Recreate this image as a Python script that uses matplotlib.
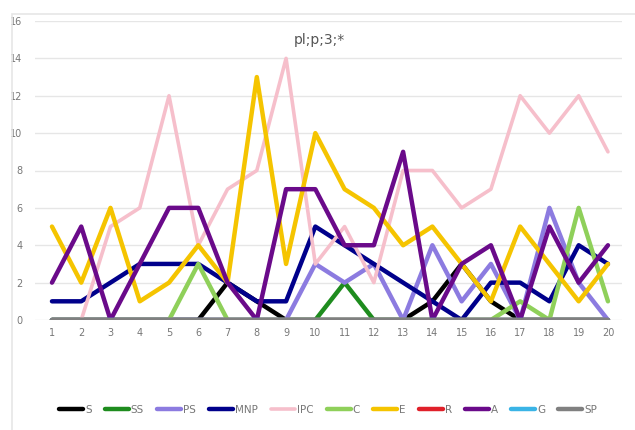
import matplotlib
matplotlib.use("Agg")
import matplotlib.pyplot as plt
from matplotlib.patches import Rectangle

x = list(range(1, 21))
S   = [0, 0, 0, 0, 0, 0, 2, 1, 0, 0, 0, 0, 0, 1, 3, 1, 0, 0, 0, 0]
SS  = [0, 0, 0, 0, 0, 0, 0, 0, 0, 0, 2, 0, 0, 0, 0, 0, 0, 0, 0, 0]
PS  = [0, 0, 0, 0, 0, 0, 0, 0, 0, 3, 2, 3, 0, 4, 1, 3, 0, 6, 2, 0]
MNP = [1, 1, 2, 3, 3, 3, 2, 1, 1, 5, 4, 3, 2, 1, 0, 2, 2, 1, 4, 3]
IPC = [0, 0, 5, 6, 12, 4, 7, 8, 14, 3, 5, 2, 8, 8, 6, 7, 12, 10, 12, 9]
C   = [0, 0, 0, 0, 0, 3, 0, 0, 0, 0, 0, 0, 0, 0, 0, 0, 1, 0, 6, 1]
E   = [5, 2, 6, 1, 2, 4, 2, 13, 3, 10, 7, 6, 4, 5, 3, 1, 5, 3, 1, 3]
R   = [0] * 20
A   = [2, 5, 0, 3, 6, 6, 2, 0, 7, 7, 4, 4, 9, 0, 3, 4, 0, 5, 2, 4]
G   = [0] * 20
SP  = [0] * 20

names = ["S", "SS", "PS", "MNP", "IPC", "C", "E", "R", "A", "G", "SP"]
series = [S, SS, PS, MNP, IPC, C, E, R, A, G, SP]
colors = ["#000000", "#1e8c1e", "#8c7be0", "#00008b", "#f6bfcb", "#8fd05a",
          "#f5c400", "#e0202a", "#6a0a8a", "#3ab4e6", "#808080"]
widths = [3.2, 3.2, 3.2, 3.2, 2.6, 3.2, 3.2, 3.2, 3.2, 3.2, 3.2]

fig = plt.figure(figsize=(6.35, 4.30), dpi=100)
fig.patches.append(Rectangle((12/635, -0.1), 1.2, (430-14)/430 + 0.1,
                             transform=fig.transFigure, fill=False,
                             edgecolor="#e6e6e6", linewidth=1.2))
ax = fig.add_axes([35/635, 1 - 320/430, (622-35)/635, (320-21)/430])

for name, vals, col, lw in zip(names, series, colors, widths):
    ax.plot(x, vals, color=col, linewidth=lw, label=name,
            solid_joinstyle="round", solid_capstyle="round")

ax.set_xlim(0.42, 20.48)
ax.set_ylim(0, 16)
ax.set_xticks(x)
ax.set_yticks(range(0, 17, 2))
ax.tick_params(axis="both", length=0, labelsize=7, labelcolor="#777777")
ax.tick_params(axis="x", pad=6)
ax.tick_params(axis="y", pad=9)
ax.grid(axis="y", color="#e6e6e6", linewidth=1)
ax.set_axisbelow(True)
for s in ax.spines.values():
    s.set_visible(False)

ax.text(0.485, 0.935, "pl;p;3;*", transform=ax.transAxes, ha="center", va="center",
        fontsize=10, color="#555555")

fig.legend(loc="center", bbox_to_anchor=(328/635, 1 - 410/430), ncol=11,
           frameon=False, fontsize=7.5, handlelength=2.3, handletextpad=0.2,
           columnspacing=1.25, labelcolor="#777777")

fig.savefig("out.png", dpi=100)
